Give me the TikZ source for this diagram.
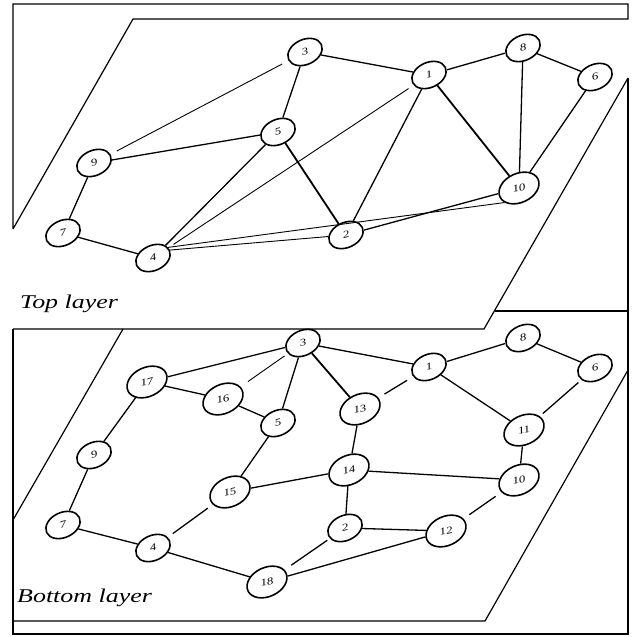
\documentclass[tikz,border=0pt]{standalone}
\usepackage{fontspec}
\usepackage{graphicx}
\setmainfont{Liberation Serif}
\usetikzlibrary{shapes.geometric}
\tikzset{
  v/.style={draw, ellipse, line width=1.6pt, fill=white, inner sep=0pt,
            rotate=25, minimum width=36pt, minimum height=25pt},
  vv/.style={v, minimum width=42pt, minimum height=29pt},
  lbl/.style={inner sep=0pt},
  frame/.style={line width=1.2pt, line join=miter},
  e/.style={line width=1.3pt},
  ethin/.style={line width=0.9pt},
  ethick/.style={line width=1.8pt},
  gap/.style={shorten <=#1, shorten >=#1},
}
\newcommand{\numtxt}[1]{\rotatebox{-12}{\scalebox{1.3}[1]{\fontsize{10}{10}\selectfont\itshape #1}}}
\newcommand{\laytxt}[1]{\scalebox{1.33}[1]{\fontsize{19.5}{20}\selectfont\itshape #1}}
\begin{document}
\begin{tikzpicture}[x=1pt,y=-1pt]
\useasboundingbox (0,0) rectangle (635,637);
% ---------- frames ----------
\draw[frame] (13,229) -- (13,4) -- (628,4) -- (628,19) -- (133,19) -- (13,229);
\draw[frame] (628,78) -- (484,329) -- (13,329);
\draw[frame] (495,311) -- (628,311);
\draw[frame] (628,78) -- (628,634) -- (13,634) -- (13,329);
\draw[frame] (123,329) -- (13,520);
\draw[frame] (628,370) -- (485,621) -- (13,621);
\node[lbl, anchor=base west] (toplbl) at (20,308) {\laytxt{Top layer}};
\node[lbl, anchor=base west] (botlbl) at (17,602) {\laytxt{Bottom layer}};
% ---------- top layer nodes ----------
\node[v] (t3) at (305,52) {\numtxt{3}};
\node[v] (t1) at (429,75) {\numtxt{1}};
\node[v] (t8) at (523,48) {\numtxt{8}};
\node[v] (t6) at (595,77) {\numtxt{6}};
\node[v] (t5) at (278,132) {\numtxt{5}};
\node[v] (t9) at (94,163) {\numtxt{9}};
\node[v] (t7) at (63,233) {\numtxt{7}};
\node[v] (t4) at (153,258) {\numtxt{4}};
\node[v] (t2) at (346,235) {\numtxt{2}};
\node[vv] (t10) at (519,188) {\numtxt{10}};
% ---------- top layer edges ----------
\draw[e] (t3) -- (t1);
\draw[e] (t3) -- (t5);
\draw[ethin, gap=7pt] (t3) -- (t9);
\draw[e] (t5) -- (t9);
\draw[e] (t5) -- (t4);
\draw[ethick] (t5) -- (t2);
\draw[e] (t1) -- (t8);
\draw[ethin, gap=6pt] (t1) -- (t4);
\draw[e] (t1) -- (t2);
\draw[ethick] (t1) -- (t10);
\draw[e] (t8) -- (t10);
\draw[e] (t8) -- (t6);
\draw[e] (t6) -- (t10);
\draw[e] (t9) -- (t7);
\draw[e] (t7) -- (t4);
\draw[ethin] (t4.10) -- (t10.200);
\draw[ethin] (t4.0) -- (t2);
\draw[e] (t10) -- (t2);
% ---------- bottom layer nodes ----------
\node[v] (b3) at (303,343) {\numtxt{3}};
\node[vv] (b17) at (147,382) {\numtxt{17}};
\node[vv] (b16) at (223,399) {\numtxt{16}};
\node[v] (b5) at (278,423) {\numtxt{5}};
\node[v] (b9) at (94,455) {\numtxt{9}};
\node[vv] (b15) at (230,492) {\numtxt{15}};
\node[v] (b7) at (63,525) {\numtxt{7}};
\node[v] (b4) at (153,548) {\numtxt{4}};
\node[vv] (b18) at (267,582) {\numtxt{18}};
\node[v] (b1) at (429,367) {\numtxt{1}};
\node[v] (b8) at (523,338) {\numtxt{8}};
\node[v] (b6) at (595,368) {\numtxt{6}};
\node[vv] (b13) at (360,409) {\numtxt{13}};
\node[vv] (b11) at (524,430) {\numtxt{11}};
\node[vv] (b14) at (349,470) {\numtxt{14}};
\node[vv] (b10) at (519,480) {\numtxt{10}};
\node[v] (b2) at (345,528) {\numtxt{2}};
\node[vv] (b12) at (446,531) {\numtxt{12}};
% ---------- bottom layer edges ----------
\draw[e] (b3) -- (b17);
\draw[ethin, shorten <=4pt, shorten >=9pt] (b3) -- (b16);
\draw[e] (b3) -- (b5);
\draw[e] (b3) -- (b1);
\draw[ethick] (b3) -- (b13);
\draw[e] (b17) -- (b16);
\draw[e] (b17) -- (b9);
\draw[e] (b16) -- (b5);
\draw[e] (b5) -- (b15);
\draw[e] (b9) -- (b7);
\draw[e] (b7) -- (b4);
\draw[e, gap=6pt] (b4) -- (b15);
\draw[e] (b4) -- (b18);
\draw[e] (b15) -- (b14);
\draw[e] (b1) -- (b8);
\draw[e, gap=7pt] (b1) -- (b13);
\draw[e] (b1) -- (b11);
\draw[e] (b8) -- (b6);
\draw[e, gap=4pt] (b6) -- (b11);
\draw[e] (b13) -- (b14);
\draw[e] (b14) -- (b10);
\draw[e] (b14) -- (b2);
\draw[e] (b11) -- (b10);
\draw[e, gap=7pt] (b10) -- (b12);
\draw[e] (b2) -- (b12);
\draw[e, shorten <=3pt, shorten >=8pt] (b2) -- (b18);
\draw[e] (b12) -- (b18);
\end{tikzpicture}
\end{document}
